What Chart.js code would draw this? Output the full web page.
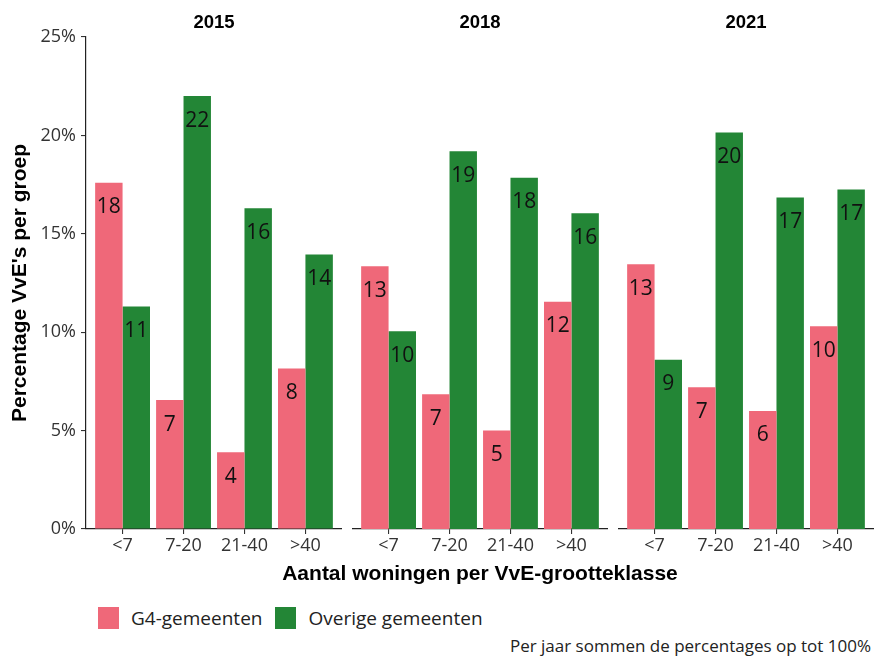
<!DOCTYPE html>
<html>
<head>
<meta charset="utf-8">
<script src="https://cdn.jsdelivr.net/npm/chart.js@4.4.0/dist/chart.umd.min.js"></script>
<style>
  html, body { margin: 0; padding: 0; background: #ffffff; }
  body { width: 874px; height: 657px; position: relative; overflow: hidden; font-family: "Open Sans", sans-serif; }
  canvas { position: absolute; top: 0; }
  #c1 { left: 0px; }
  #c2 { left: 352px; }
  #c3 { left: 618px; }
  #xtitle { position: absolute; left: 86px; width: 788px; top: 561px; line-height: 24px; text-align: center;
            font: bold 21px "Liberation Sans", Arial, sans-serif; color: #000; }
  #legend { position: absolute; left: 98px; top: 607px; height: 22px; display: flex; align-items: center;
            font-size: 19px; color: #222; white-space: nowrap; }
  #legend .sw { width: 21px; height: 22px; margin-right: 12px; flex: none; }
  #legend .lt { margin-right: 13px; }
  #caption { position: absolute; right: 3px; top: 634px; font-size: 17px; line-height: 24px; color: #222; white-space: nowrap; }
</style>
</head>
<body>
<canvas id="c1" width="342" height="570"></canvas>
<canvas id="c2" width="256" height="570"></canvas>
<canvas id="c3" width="256" height="570"></canvas>
<div id="xtitle">Aantal woningen per VvE-grootteklasse</div>
<div id="legend"></div>
<div id="caption">Per jaar sommen de percentages op tot 100%</div>
<script>
// ---- data ----
const categories = ['<7', '7-20', '21-40', '>40'];
const years = ['2015', '2018', '2021'];
const seriesNames = ['G4-gemeenten', 'Overige gemeenten'];
const g4_2015 = [17.6, 6.55, 3.9, 8.15];
const overige_2015 = [11.3, 22.0, 16.3, 13.95];
const g4_2018 = [13.35, 6.85, 5.0, 11.55];
const overige_2018 = [10.05, 19.2, 17.85, 16.05];
const g4_2021 = [13.45, 7.2, 6.0, 10.3];
const overige_2021 = [8.6, 20.15, 16.85, 17.25];
const yTicks = [0, 5, 10, 15, 20, 25];

const colors = ['#EF6879', '#238636'];
const panelData = [
  [g4_2015, overige_2015],
  [g4_2018, overige_2018],
  [g4_2021, overige_2021]
];

Chart.defaults.font.family = '"Open Sans", sans-serif';
Chart.defaults.animation = false;

const barLabels = {
  id: 'barLabels',
  afterDatasetsDraw(chart) {
    const ctx = chart.ctx;
    ctx.save();
    ctx.font = '21px "Open Sans", sans-serif';
    ctx.fillStyle = '#111';
    ctx.textAlign = 'center';
    ctx.textBaseline = 'alphabetic';
    chart.data.datasets.forEach((ds, i) => {
      chart.getDatasetMeta(i).data.forEach((bar, j) => {
        ctx.fillText(String(Math.round(ds.data[j])), bar.x, bar.y + 30.5);
      });
    });
    ctx.restore();
  }
};

function makeChart(id, idx, withY) {
  const datasets = seriesNames.map((name, k) => ({
    label: name,
    data: panelData[idx][k],
    backgroundColor: colors[k],
    borderWidth: 0,
    categoryPercentage: 0.9,
    barPercentage: 1.0
  }));
  return new Chart(document.getElementById(id), {
    type: 'bar',
    data: { labels: categories, datasets },
    plugins: [barLabels],
    options: {
      responsive: false,
      animation: false,
      layout: { padding: 0 },
      plugins: {
        legend: { display: false },
        tooltip: { enabled: false },
        title: {
          display: true,
          text: years[idx],
          fullSize: !withY,
          color: '#000',
          font: { family: '"Liberation Sans", Arial, sans-serif', size: 18.5, weight: 'bold', lineHeight: 1.2 },
          padding: { top: 12, bottom: 2.8 }
        }
      },
      scales: {
        x: {
          type: 'category',
          offset: true,
          afterBuildTicks(scale) { scale._startValue = -0.6; scale._valueRange = 4.2; },
          afterFit(scale) { scale.height = 41; },
          grid: { display: true, drawOnChartArea: false, drawTicks: true, tickLength: 5, offset: false, color: '#333', lineWidth: 1.1 },
          border: { display: true, color: '#222', width: 1.2 },
          ticks: { font: { size: 18 }, color: '#333', padding: 1, maxRotation: 0, autoSkip: false }
        },
        y: {
          display: withY,
          min: 0,
          max: 25,
          afterFit(scale) { scale.width = withY ? 86 : 0; },
          afterBuildTicks(scale) { scale.ticks = yTicks.map(v => ({ value: v })); },
          grid: { display: true, drawOnChartArea: false, drawTicks: true, tickLength: 5, color: '#333', lineWidth: 1.1 },
          border: { display: true, color: '#222', width: 1.2 },
          ticks: { font: { size: 18 }, color: '#333', padding: 5, callback: v => v + '%' },
          title: {
            display: withY,
            text: "Percentage VvE's per groep",
            color: '#000',
            font: { family: '"Liberation Sans", Arial, sans-serif', size: 21, weight: 'bold', lineHeight: 1.2 },
            padding: { top: 8, bottom: 0 }
          }
        }
      }
    }
  });
}

makeChart('c1', 0, true);
makeChart('c2', 1, false);
makeChart('c3', 2, false);

// legend (HTML)
const legend = document.getElementById('legend');
seriesNames.forEach((name, k) => {
  const sw = document.createElement('span');
  sw.className = 'sw';
  sw.style.background = colors[k];
  const t = document.createElement('span');
  t.className = 'lt';
  t.textContent = name;
  legend.appendChild(sw);
  legend.appendChild(t);
});
</script>
</body>
</html>
